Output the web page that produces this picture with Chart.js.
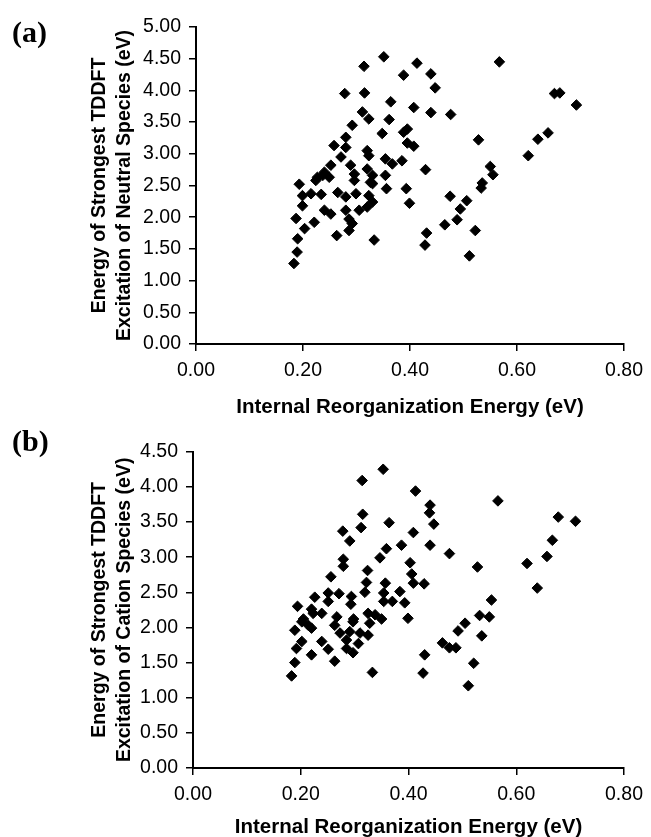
<!DOCTYPE html>
<html>
<head>
<meta charset="utf-8">
<script src="https://cdn.jsdelivr.net/npm/chart.js@4/dist/chart.umd.min.js"></script>
<style>
  html, body { margin:0; padding:0; background:#fff; width:651px; height:837px; overflow:hidden; }
  .wrap { position:absolute; left:0; width:651px; height:420px; }
  .panel { position:absolute; left:12px; font-family:"Liberation Serif","Times New Roman",serif; font-weight:bold; font-size:30px; line-height:30px; color:#000; }
</style>
</head>
<body>
<div class="wrap" style="top:0"><canvas id="cA" width="651" height="420"></canvas></div>
<div class="wrap" style="top:420px"><canvas id="cB" width="651" height="420"></canvas></div>
<div class="panel" style="top:17px">(a)</div>
<div class="panel" style="top:426px">(b)</div>
<script>
// ---- data ----
const xTitle = 'Internal Reorganization Energy (eV)';
const yTitleA = ['Energy of Strongest TDDFT', 'Excitation of Neutral Species (eV)'];
const yTitleB = ['Energy of Strongest TDDFT', 'Excitation of Cation Species (eV)'];

const neutralX = [0.413,0.567,0.388,0.439,0.447,0.670,0.680,0.711,0.407,0.439,0.476,0.395,0.388,0.528,0.658,0.639,0.621,0.395,0.407,0.385,
  0.429,0.550,0.555,0.535,0.533,0.393,0.399,0.475,0.506,0.494,0.488,0.465,0.522,0.431,0.428,0.511,0.351,0.314,0.278,0.315,
  0.364,0.311,0.323,0.361,0.292,0.348,0.280,0.258,0.280,0.320,0.323,0.271,0.354,0.252,0.289,0.320,0.193,0.227,0.240,0.296,
  0.296,0.330,0.224,0.249,0.354,0.330,0.356,0.199,0.215,0.234,0.265,0.280,0.299,0.323,0.330,0.199,0.240,0.252,0.280,0.305,
  0.320,0.187,0.221,0.286,0.292,0.203,0.286,0.263,0.190,0.333,0.189,0.183,0.367,0.237,0.326];
const neutralY = [4.43,4.45,4.24,4.26,4.04,3.95,3.96,3.77,3.73,3.65,3.62,3.39,3.34,3.22,3.33,3.23,2.97,3.17,3.12,2.89,
  2.75,2.80,2.67,2.54,2.46,2.45,2.22,2.33,2.26,2.13,1.96,1.88,1.79,1.75,1.56,1.39,4.53,4.38,3.95,3.96,
  3.82,3.66,3.55,3.54,3.45,3.32,3.26,3.13,3.10,3.05,2.97,2.95,2.92,2.82,2.82,2.76,2.52,2.63,2.71,2.68,
  2.58,2.66,2.58,2.63,2.66,2.53,2.45,2.34,2.37,2.36,2.39,2.32,2.37,2.34,2.24,2.18,2.11,2.05,2.11,2.11,
  2.16,1.98,1.92,1.97,1.90,1.82,1.79,1.71,1.66,1.64,1.45,1.27,2.84,2.66,2.55];

const cationX = [0.413,0.566,0.440,0.439,0.447,0.678,0.710,0.409,0.440,0.476,0.667,0.657,0.620,0.639,0.528,0.403,0.406,0.409,0.429,0.554,
  0.532,0.550,0.536,0.505,0.492,0.463,0.476,0.488,0.430,0.427,0.521,0.511,0.353,0.314,0.315,0.312,0.364,0.278,0.291,0.359,
  0.347,0.387,0.279,0.279,0.256,0.324,0.322,0.319,0.357,0.251,0.271,0.294,0.354,0.384,0.226,0.251,0.293,0.354,0.370,0.393,
  0.194,0.220,0.239,0.205,0.267,0.298,0.325,0.399,0.223,0.338,0.350,0.202,0.214,0.263,0.297,0.328,0.189,0.220,0.273,0.291,
  0.310,0.325,0.202,0.239,0.285,0.307,0.192,0.251,0.285,0.297,0.220,0.263,0.189,0.333,0.183];
const cationY = [3.94,3.80,3.74,3.63,3.47,3.57,3.51,3.35,3.17,3.05,3.24,3.01,2.91,2.56,2.86,2.92,2.76,2.63,2.62,2.39,
  2.17,2.15,1.88,2.06,1.95,1.78,1.71,1.71,1.61,1.35,1.49,1.17,4.25,4.09,3.61,3.42,3.49,3.37,3.23,3.12,
  2.99,3.17,2.97,2.87,2.72,2.81,2.64,2.50,2.63,2.49,2.48,2.44,2.49,2.51,2.43,2.37,2.33,2.37,2.37,2.35,
  2.30,2.26,2.20,2.12,2.15,2.12,2.20,2.13,2.20,2.18,2.12,2.08,2.03,2.03,2.08,2.06,1.96,1.99,1.92,1.94,
  1.92,1.89,1.80,1.80,1.82,1.77,1.70,1.69,1.70,1.64,1.61,1.52,1.50,1.36,1.31];

const xTicks = [0, 0.2, 0.4, 0.6, 0.8];

// ---- chart builder ----
function makeChart(id, xs, ys, yMax, yTitle, geom) {
  const pts = xs.map((x, i) => ({x: x, y: ys[i]}));
  const tickFont = {family: '"Liberation Sans", Arial, sans-serif', size: 19.5};
  const xTitleFont = {family: '"Liberation Sans", Arial, sans-serif', size: 20.5, weight: 'bold', lineHeight: 1.2};
  const yTitleFont = {family: '"Liberation Sans", Arial, sans-serif', size: 19.5, weight: 'bold', lineHeight: 1.3};
  const grid = {drawOnChartArea: false, drawTicks: true, tickLength: 7, color: '#000', lineWidth: 1.5};
  return new Chart(document.getElementById(id), {
    type: 'scatter',
    data: {datasets: [{data: pts, pointStyle: 'rectRot', pointRadius: 5.3,
      backgroundColor: '#000', borderColor: '#000', borderWidth: 1}]},
    options: {
      responsive: false, animation: false, devicePixelRatio: 1,
      layout: {padding: {left: geom.padL, top: geom.top, right: 651 - geom.right, bottom: 0}},
      plugins: {legend: {display: false}, tooltip: {enabled: false}},
      scales: {
        x: {
          type: 'linear', min: 0, max: 0.8,
          afterBuildTicks: s => { s.ticks = xTicks.map(v => ({value: v})); },
          ticks: {color: '#000', font: tickFont, padding: 8, maxRotation: 0,
            callback: v => Number(v).toFixed(2)},
          grid: grid,
          border: {display: true, color: '#000', width: 2},
          title: {display: true, text: xTitle, color: '#000', font: xTitleFont, padding: 0},
          afterFit: s => { s.height = 420 - geom.bottom; }
        },
        y: {
          type: 'linear', min: 0, max: yMax,
          ticks: {stepSize: 0.5, color: '#000', font: tickFont, padding: 8,
            callback: v => Number(v).toFixed(2)},
          grid: grid,
          border: {display: true, color: '#000', width: 2},
          title: {display: true, text: yTitle, color: '#000', font: yTitleFont, padding: 0},
          afterFit: s => { s.width = geom.left - geom.padL; }
        }
      }
    }
  });
}

makeChart('cA', neutralX, neutralY, 5.0, yTitleA, {padL: 86.5, left: 196, right: 626, top: 27, bottom: 344});
makeChart('cB', cationX, cationY, 4.5, yTitleB, {padL: 86.5, left: 193, right: 624, top: 31.7, bottom: 348});
</script>
</body>
</html>
